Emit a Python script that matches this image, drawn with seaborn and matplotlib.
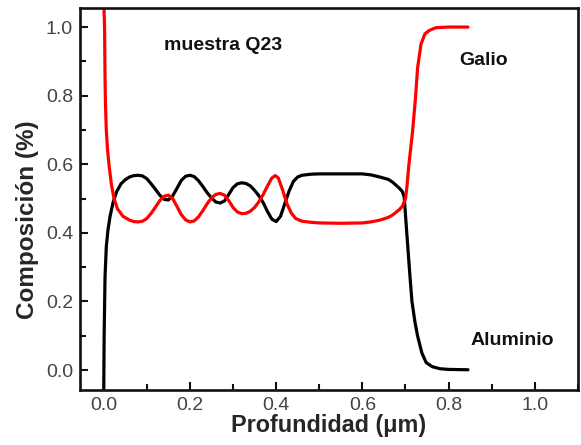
import pandas as pd
import matplotlib
matplotlib.use('Agg')
import matplotlib.pyplot as plt
from matplotlib.ticker import MultipleLocator
import seaborn as sns

# depth (um) and composition
al_x = [0.000, 0.001, 0.003, 0.006, 0.010, 0.015, 0.022, 0.030, 0.040, 0.050,
        0.060, 0.070, 0.080, 0.090, 0.100, 0.110, 0.120, 0.130, 0.140, 0.150,
        0.160, 0.170, 0.180, 0.190, 0.200, 0.210, 0.220, 0.230, 0.240, 0.250,
        0.260, 0.270, 0.280, 0.290, 0.300, 0.310, 0.320, 0.330, 0.340, 0.350,
        0.360, 0.370, 0.380, 0.390, 0.400, 0.410, 0.420, 0.430, 0.440, 0.450,
        0.460, 0.480, 0.500, 0.550, 0.600, 0.620, 0.640, 0.660, 0.670, 0.686,
        0.693, 0.697, 0.703, 0.710, 0.715, 0.722, 0.728, 0.738, 0.748, 0.762,
        0.780, 0.800, 0.845]
al_y = [-0.07, 0.10, 0.27, 0.36, 0.41, 0.45, 0.49, 0.52, 0.543, 0.555,
        0.563, 0.567, 0.568, 0.566, 0.558, 0.543, 0.527, 0.510, 0.498, 0.496,
        0.508, 0.530, 0.553, 0.565, 0.568, 0.564, 0.552, 0.535, 0.517, 0.502,
        0.490, 0.487, 0.493, 0.512, 0.532, 0.543, 0.546, 0.544, 0.537, 0.524,
        0.508, 0.488, 0.462, 0.440, 0.433, 0.448, 0.485, 0.522, 0.550, 0.563,
        0.568, 0.571, 0.572, 0.572, 0.572, 0.569, 0.563, 0.556, 0.548, 0.530,
        0.520, 0.505, 0.40, 0.28, 0.20, 0.14, 0.10, 0.05, 0.022, 0.010,
        0.004, 0.002, 0.001]

ga_x = [0.000, 0.002, 0.003, 0.004, 0.006, 0.009, 0.013, 0.018, 0.024, 0.032,
        0.045, 0.060, 0.070, 0.080, 0.090, 0.100, 0.110, 0.120, 0.130, 0.140,
        0.150, 0.160, 0.170, 0.180, 0.190, 0.200, 0.210, 0.220, 0.230, 0.240,
        0.250, 0.260, 0.270, 0.280, 0.290, 0.300, 0.310, 0.320, 0.330, 0.340,
        0.350, 0.360, 0.370, 0.380, 0.390, 0.398, 0.405, 0.415, 0.425, 0.435,
        0.445, 0.460, 0.480, 0.500, 0.550, 0.600, 0.620, 0.640, 0.660, 0.670,
        0.686, 0.693, 0.700, 0.703, 0.708, 0.716, 0.723, 0.728, 0.736, 0.745,
        0.755, 0.770, 0.800, 0.845]
ga_y = [1.08, 1.00, 0.86, 0.78, 0.70, 0.64, 0.59, 0.54, 0.50, 0.47,
        0.448, 0.437, 0.433, 0.432, 0.434, 0.442, 0.457, 0.475, 0.494, 0.507,
        0.510, 0.500, 0.477, 0.453, 0.438, 0.432, 0.435, 0.447, 0.465, 0.485,
        0.502, 0.512, 0.515, 0.510, 0.494, 0.474, 0.461, 0.456, 0.457, 0.463,
        0.474, 0.491, 0.512, 0.537, 0.560, 0.567, 0.560, 0.525, 0.485, 0.458,
        0.442, 0.434, 0.431, 0.429, 0.428, 0.429, 0.432, 0.437, 0.445, 0.452,
        0.468, 0.478, 0.50, 0.53, 0.60, 0.69, 0.79, 0.88, 0.95, 0.98,
        0.99, 0.998, 1.0, 1.0]

aluminio = pd.DataFrame({'x': al_x, 'y': al_y})
galio = pd.DataFrame({'x': ga_x, 'y': ga_y})

sns.set_style('ticks')
plt.rcParams['font.family'] = ['Liberation Sans', 'DejaVu Sans']

fig = plt.figure(figsize=(5.81, 4.45), dpi=100)
ax = fig.add_axes([0.1377, 0.1236, 0.857, 0.858])

sns.lineplot(data=aluminio, x='x', y='y', ax=ax, color='black', linewidth=2.3,
             sort=False, estimator=None)
sns.lineplot(data=galio, x='x', y='y', ax=ax, color='#ff0000', linewidth=2.3,
             sort=False, estimator=None)

ax.set_xlim(-0.055, 1.1)
ax.set_ylim(-0.058, 1.055)
ax.xaxis.set_major_locator(MultipleLocator(0.2))
ax.xaxis.set_minor_locator(MultipleLocator(0.1))
ax.yaxis.set_major_locator(MultipleLocator(0.2))
ax.yaxis.set_minor_locator(MultipleLocator(0.1))
ax.tick_params(which='both', direction='in', width=1.5, colors='#111111',
               labelsize=14, labelcolor='#444444')
ax.tick_params(which='major', length=6, pad=5)
ax.tick_params(which='minor', length=4)
for s in ax.spines.values():
    s.set_linewidth(1.9)
    s.set_color('#111111')
    s.set_visible(True)

ax.set_xlabel('Profundidad (\u03bcm)', fontsize=16.8, fontweight='bold', labelpad=0)
ax.set_ylabel('Composici\u00f3n (%)', fontsize=17.5, fontweight='bold')
ax.yaxis.label.set_va('center')
ax.yaxis.set_label_coords(-0.106, 0.445)

ax.text(0.277, 0.947, 'muestra Q23', fontsize=14, fontweight='bold',
        ha='center', va='center', color='#111111')
ax.text(0.824, 0.903, 'Galio', fontsize=14, fontweight='bold',
        ha='left', va='center', color='#111111')
ax.text(0.852, 0.087, 'Aluminio', fontsize=14, fontweight='bold',
        ha='left', va='center', color='#111111')

fig.savefig('out.png', dpi=100)
